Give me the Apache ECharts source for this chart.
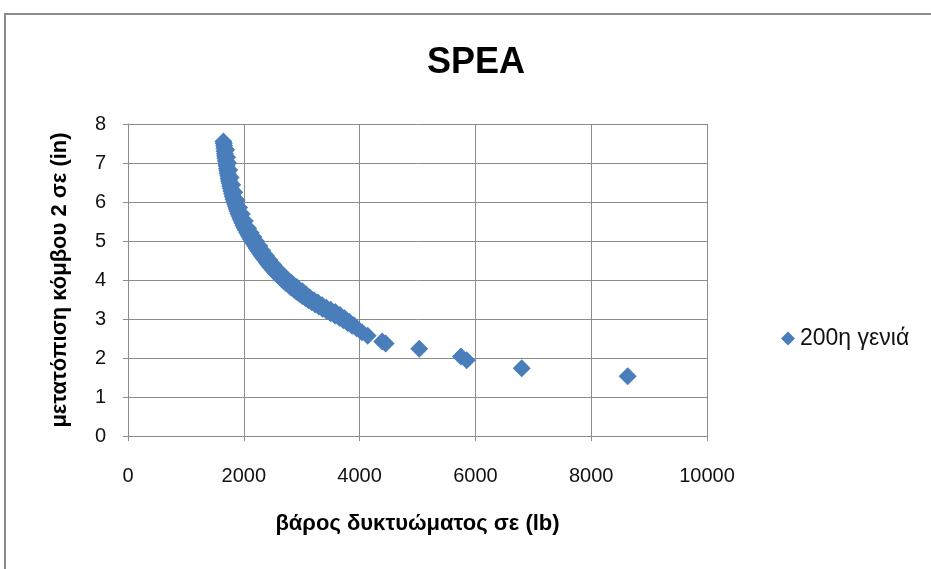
<!DOCTYPE html>
<html>
<head>
<meta charset="utf-8">
<title>SPEA</title>
<script src="https://cdn.jsdelivr.net/npm/echarts@6/dist/echarts.min.js"></script>
<style>
  html, body { margin: 0; padding: 0; background: #ffffff; }
  #chart { width: 931px; height: 569px; }
</style>
</head>
<body>
<div id="chart"></div>
<script>
// Pareto front of the 200th generation: truss weight (lb) vs. displacement of node 2 (in)
const seriesName = '200η γενιά';
const weightLb = [
  1648, 1655, 1660, 1664, 1668, 1673, 1677, 1683, 1690, 1697,
  1703, 1710, 1716, 1722, 1730, 1738, 1746, 1755, 1765, 1774,
  1785, 1796, 1808, 1822, 1835, 1850, 1863, 1878, 1893, 1908,
  1925, 1942, 1960, 1978, 1995, 2015, 2036, 2058, 2080, 2103,
  2126, 2150, 2175, 2200, 2226, 2252, 2280, 2308, 2338, 2368,
  2398, 2430, 2463, 2497, 2532, 2568, 2605, 2645, 2685, 2728,
  2772, 2816, 2862, 2910, 2960, 3010, 3062, 3118, 3175, 3235,
  3298, 3362, 3430, 3500, 3575, 3650, 3720, 3795, 3870, 3950,
  4040, 4140, 4390, 4450, 5030, 5750, 5850, 6800, 8630
];
const displacementIn = [
  7.55, 7.50, 7.44, 7.38, 7.31, 7.24, 7.18, 7.12, 7.05, 6.99,
  6.93, 6.86, 6.80, 6.74, 6.67, 6.60, 6.54, 6.48, 6.41, 6.35,
  6.28, 6.21, 6.14, 6.07, 6.01, 5.95, 5.89, 5.82, 5.76, 5.70,
  5.64, 5.58, 5.52, 5.46, 5.40, 5.34, 5.28, 5.22, 5.16, 5.10,
  5.04, 4.99, 4.93, 4.87, 4.81, 4.75, 4.69, 4.63, 4.57, 4.51,
  4.45, 4.39, 4.33, 4.27, 4.21, 4.15, 4.10, 4.04, 3.98, 3.92,
  3.87, 3.81, 3.76, 3.70, 3.65, 3.59, 3.54, 3.48, 3.43, 3.37,
  3.32, 3.26, 3.21, 3.15, 3.09, 3.03, 2.97, 2.90, 2.83, 2.76,
  2.66, 2.57, 2.42, 2.37, 2.24, 2.04, 1.94, 1.74, 1.53
];
// further solutions lying just beside the dense part of the front
const weightLbOuter = [
  1695, 1712, 1727, 1748, 1772, 1800, 1835, 1875, 1918, 1965,
  2018, 2075, 2120, 2165, 2215, 2268, 2322, 2380, 2442, 2508,
  2578, 2652, 2735, 2822, 2915, 3012, 3075, 3140, 3210, 3280,
  3352, 3425, 3500, 3580, 3660, 3740, 3820, 3900
];
const displacementInOuter = [
  7.34, 7.15, 7.00, 6.82, 6.63, 6.44, 6.25, 6.05, 5.86, 5.69,
  5.51, 5.33, 5.21, 5.10, 4.99, 4.87, 4.75, 4.63, 4.51, 4.39,
  4.27, 4.16, 4.04, 3.93, 3.82, 3.71, 3.63, 3.55, 3.48, 3.42,
  3.35, 3.29, 3.24, 3.18, 3.10, 3.02, 2.93, 2.84
];
const xTicks = { min: 0, max: 10000, step: 2000 };
const yTicks = { min: 0, max: 8, step: 1 };

const points = weightLb.map((w, i) => [w, displacementIn[i]])
  .concat(weightLbOuter.map((w, i) => [w, displacementInOuter[i]]));

const gridGray = '#8c8c8c';
const markerBlue = '#4a7ebb';
const font = '"Liberation Sans", Arial, sans-serif';

const chart = echarts.init(document.getElementById('chart'), null, { renderer: 'canvas' });
chart.setOption({
  animation: false,
  backgroundColor: '#ffffff',
  graphic: [{
    type: 'rect',
    silent: true,
    shape: { x: 5, y: 14, width: 1200, height: 1200 },
    style: { fill: 'none', stroke: '#8a8a8a', lineWidth: 2 }
  }],
  title: {
    text: 'SPEA',
    left: 471,
    top: 40,
    textAlign: 'center',
    textStyle: { fontFamily: font, fontWeight: 'bold', fontSize: 36, color: '#000' }
  },
  legend: {
    left: 776,
    top: 322,
    itemWidth: 14,
    itemHeight: 14,
    textStyle: { fontFamily: font, fontSize: 23, color: '#111' },
    data: [{ name: seriesName, icon: 'diamond' }]
  },
  grid: { left: 128, right: 224, top: 124, bottom: 133, containLabel: false },
  xAxis: {
    type: 'value',
    min: xTicks.min,
    max: xTicks.max,
    interval: xTicks.step,
    name: 'βάρος δυκτυώματος σε (lb)',
    nameLocation: 'middle',
    nameGap: 77,
    nameTextStyle: { fontFamily: font, fontWeight: 'bold', fontSize: 22, color: '#000' },
    axisLine: { show: true, lineStyle: { color: gridGray, width: 1 } },
    axisTick: { show: true, length: 5, lineStyle: { color: gridGray } },
    axisLabel: {
      margin: 30, fontFamily: font, fontSize: 20, color: '#111',
      formatter: v => String(v)
    },
    splitLine: { show: true, lineStyle: { color: gridGray, width: 1 } }
  },
  yAxis: {
    type: 'value',
    min: yTicks.min,
    max: yTicks.max,
    interval: yTicks.step,
    name: 'μετατόπιση κόμβου 2 σε (in)',
    nameLocation: 'middle',
    nameRotate: 90,
    nameGap: 57,
    nameTextStyle: { fontFamily: font, fontWeight: 'bold', fontSize: 22, color: '#000' },
    axisLine: { show: true, lineStyle: { color: gridGray, width: 1 } },
    axisTick: { show: true, length: 5, lineStyle: { color: gridGray } },
    axisLabel: { margin: 22, fontFamily: font, fontSize: 20, color: '#111' },
    splitLine: { show: true, lineStyle: { color: gridGray, width: 1 } }
  },
  series: [{
    name: seriesName,
    type: 'scatter',
    symbol: 'diamond',
    symbolSize: 18,
    itemStyle: { color: markerBlue, opacity: 1 },
    data: points
  }]
});
</script>
</body>
</html>
